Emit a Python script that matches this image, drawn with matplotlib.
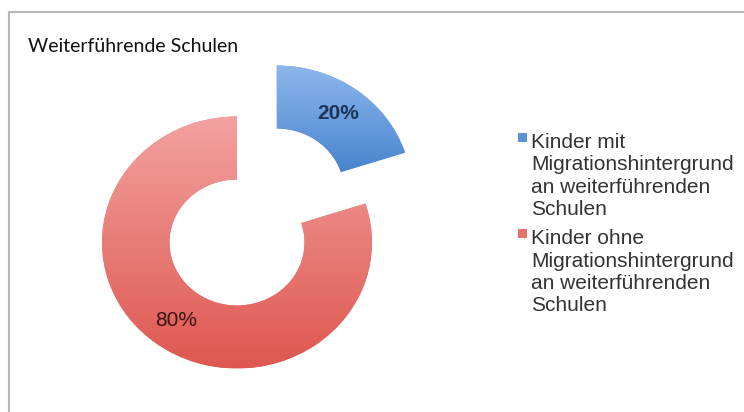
import numpy as np
import matplotlib.pyplot as plt
from matplotlib.colors import LinearSegmentedColormap
from matplotlib.patches import Rectangle

title = 'Weiterführende Schulen'
labels = ['Kinder mit\nMigrationshintergrund\nan weiterführenden\nSchulen',
          'Kinder ohne\nMigrationshintergrund\nan weiterführenden\nSchulen']
shares = [20, 80]
explode = [0.5, 0.0]
colors = ['#5b93d8', '#e5706c']
gradients = [('#8cb7ec', '#4a84cf'), ('#f3a2a1', '#de5850')]
pct_colors = ['#1d3557', '#3b1414']
pct_weights = ['bold', 'normal']

fig = plt.figure(figsize=(7.44, 4.12), dpi=100)
ax = fig.add_axes([0, 0, 1, 1])

wedges, texts, autotexts = ax.pie(
    shares, explode=explode, colors=colors, startangle=90, counterclock=False,
    wedgeprops=dict(width=0.5, linewidth=0), autopct='%d%%', pctdistance=0.77,
    textprops=dict(fontsize=15, family='Liberation Sans'))

for t, c, fw in zip(autotexts, pct_colors, pct_weights):
    t.set_color(c)
    t.set_fontweight(fw)
    t.set_zorder(4)

# vertical gradient inside each wedge, like the office chart
for w, (top, bottom) in zip(wedges, gradients):
    ext = w.get_path().get_extents()
    cm = LinearSegmentedColormap.from_list('g', [top, bottom])
    im = ax.imshow(np.linspace(0, 1, 200)[:, None], cmap=cm, aspect='auto',
                   origin='upper', extent=(ext.x0, ext.x1, ext.y0, ext.y1),
                   zorder=2)
    im.set_clip_path(w)

# the source image is stretched a bit horizontally
ax.set_aspect('auto')
ax.set_xlim(-237 / 135, (744 - 237) / 135)
ax.set_ylim(-(412 - 242.5) / 126, 242.5 / 126)
ax.axis('off')

leg = ax.legend(wedges, labels, loc='upper left',
                bbox_to_anchor=(518 / 744, 1 - 133 / 412),
                bbox_transform=fig.transFigure, frameon=False,
                handlelength=0.42, handleheight=0.3, handletextpad=0.22,
                labelspacing=0.5, borderpad=0, borderaxespad=0,
                prop=dict(family='Liberation Sans', size=15))
for col in leg._legend_handle_box.get_children():
    for item in col.get_children():
        item.align = 'top'
for t in leg.get_texts():
    t.set_color('#333333')
    t.set_linespacing(1.22)

fig.text(28 / 744, 1 - 46 / 412, title, fontsize=14, family='Lato',
         va='center', ha='left', color='#111111')

fig.add_artist(Rectangle((9 / 744, -0.05), 1.2, 1 - 12 / 412 + 0.05,
                         transform=fig.transFigure, fill=False,
                         edgecolor='#b8b8b8', linewidth=1.5))

fig.savefig('out.png', dpi=100, facecolor='white')
